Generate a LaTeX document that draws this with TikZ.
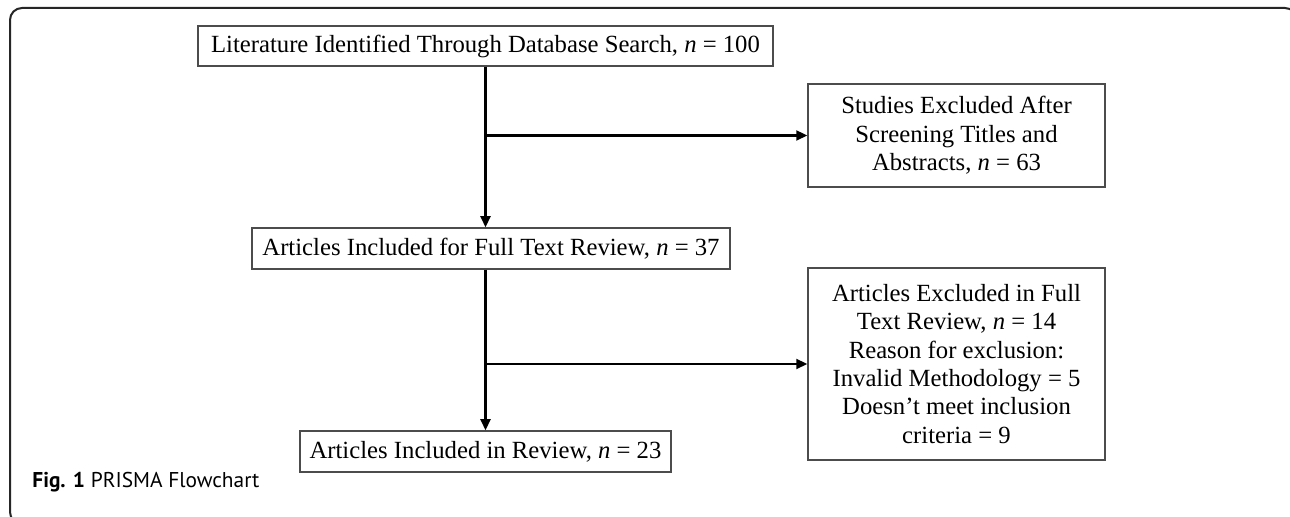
\documentclass[tikz,border=0pt]{standalone}
\usepackage{fontspec}
\setmainfont{Liberation Serif}
\newfontfamily\capfont{PT Sans}
\usetikzlibrary{arrows.meta}

\tikzset{
  flowbox/.style={draw=black!70, line width=0.75pt, fill=white, align=center,
    inner sep=2pt, font=\fontsize{12.35pt}{14.15pt}\selectfont},
  flowarrow/.style={draw=black, line width=1.1pt,
    -{Triangle[length=5.5pt,width=5pt]}},
  frameline/.style={draw=black!85, line width=1pt, rounded corners=6pt}
}

\begin{document}
\begin{tikzpicture}[x=0.5pt,y=-0.5pt]
  \useasboundingbox (0,0) rectangle (1290,517);

  % outer figure frame, running past the page edge on the right and bottom
  \begin{scope}
    \clip (0,0) rectangle (1290,517);
    \draw[frameline] (10,8) rectangle (1297,524);
  \end{scope}

  % main column
  \node[flowbox, minimum width=287.5pt, minimum height=20pt] (ident) at (485.5,46)
    {Literature Identified Through Database Search, \textit{n} = 100};
  \node[flowbox, minimum width=239pt, minimum height=20.5pt] (full) at (491,248.5)
    {Articles Included for Full Text Review, \textit{n} = 37};
  \node[flowbox, minimum width=185.5pt, minimum height=20.5pt] (incl) at (485.5,451.5)
    {Articles Included in Review, \textit{n} = 23};

  % exclusion boxes
  \node[flowbox, minimum width=148.5pt, minimum height=51.5pt] (excl1) at (956.5,135.5)
    {Studies Excluded After\\Screening Titles and\\Abstracts, \textit{n} = 63};
  \node[flowbox, minimum width=148.5pt, minimum height=96pt] (excl2) at (956.5,364)
    {Articles Excluded in Full\\Text Review, \textit{n} = 14\\Reason for exclusion:\\
     Invalid Methodology = 5\\Doesn’t meet inclusion\\criteria = 9};

  % connectors
  \draw[flowarrow] (ident.south) -- (ident.south |- full.north);
  \draw[flowarrow] (ident.south |- excl1.west) -- (excl1.west);
  \draw[flowarrow] (ident.south |- full.south) -- (ident.south |- incl.north);
  \draw[flowarrow] (ident.south |- excl2.west) -- (excl2.west);

  % caption
  \node[anchor=base west, inner sep=0pt, font=\capfont\fontsize{10.7pt}{12pt}\selectfont]
    (cap) at (32,488) {\textbf{Fig. 1} PRISMA Flowchart};
\end{tikzpicture}
\end{document}
